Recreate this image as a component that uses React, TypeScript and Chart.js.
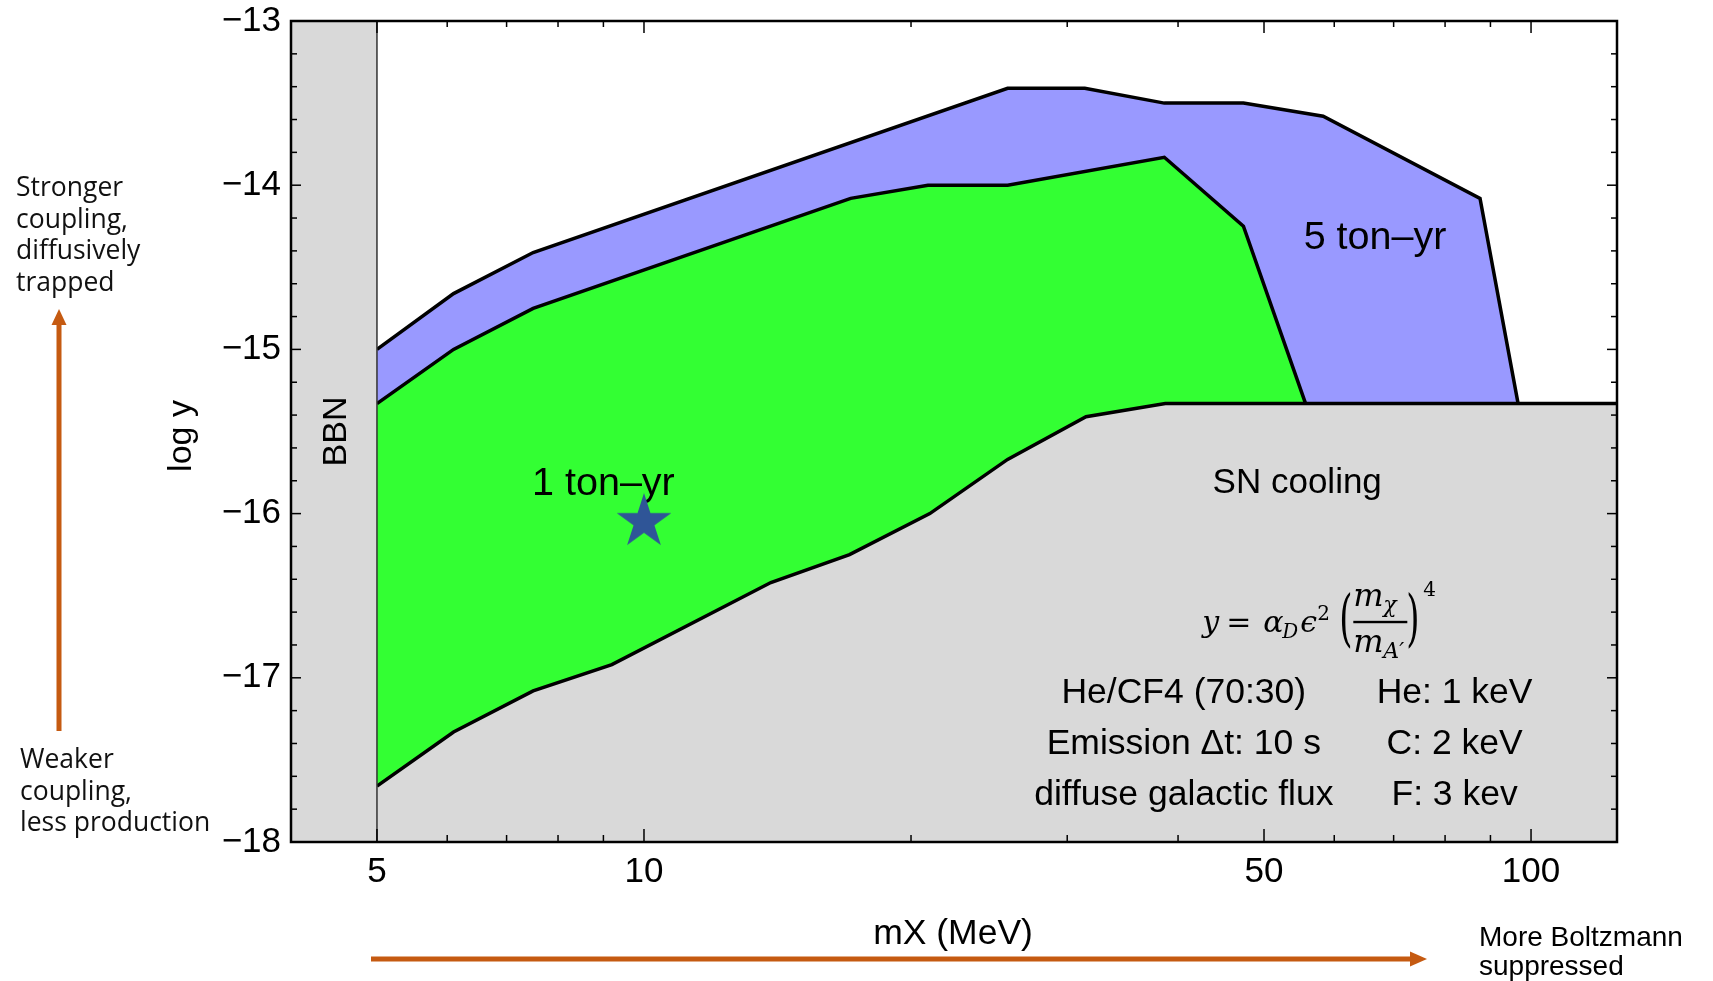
import React, { useEffect, useRef } from "react";
import { Chart, registerables } from "chart.js";

Chart.register(...registerables);

// ---------------- data ----------------
const xMin = 4;
const xMax = 125;
const yMin = -18;
const yMax = -13;
const xTickValues = [5, 10, 50, 100];
const xMinorTicks = [6, 7, 8, 9, 20, 30, 40, 60, 70, 80, 90];
const yTickValues = [-18, -17, -16, -15, -14, -13];

// 5 ton-yr reach (upper boundary), log y vs mX (MeV)
const mass5ton = [5, 6.1, 7.5, 25.7, 31.4, 38.6, 47.4, 58.3, 87.6, 96.7];
const logY5ton = [-15.0, -14.66, -14.41, -13.41, -13.41, -13.5, -13.5, -13.58, -14.08, -15.33];

// 1 ton-yr reach (upper boundary)
const mass1ton = [5, 6.1, 7.5, 17.1, 20.9, 25.7, 38.6, 47.4, 55.7];
const logY1ton = [-15.33, -15.0, -14.75, -14.08, -14.0, -14.0, -13.83, -14.25, -15.33];

// SN cooling excluded region (upper boundary)
const massSN = [5, 6.1, 7.5, 9.2, 13.9, 17.05, 21, 25.7, 31.5, 38.7, 125];
const logYSN = [-17.66, -17.33, -17.08, -16.92, -16.42, -16.25, -16.0, -15.67, -15.41, -15.33, -15.33];

// BBN excluded band
const massBBN = [4, 5];
const logYBBN = [-13, -13];
const bbnEdgeMass = [5, 5];
const bbnEdgeLogY = [-13, -18];

// benchmark star
const starMass = [10];
const starLogY = [-16.05];

// text labels
const infoLeft = ["He/CF4 (70:30)", "Emission \u0394t: 10 s", "diffuse galactic flux"];
const infoRight = ["He: 1 keV", "C: 2 keV", "F: 3 kev"];
const strongerText = ["Stronger", "coupling,", "diffusively", "trapped"];
const weakerText = ["Weaker", "coupling,", "less production"];
const boltzText = ["More Boltzmann", "suppressed"];

const pts = (xs: number[], ys: number[]) => xs.map((x, i) => ({ x, y: ys[i] }));

const SANS = '"Liberation Sans", Arial, sans-serif';
const SERIF = '"DejaVu Serif", "Liberation Serif", serif';
const HUMAN = '"Open Sans", "Noto Sans", sans-serif';
const ORANGE = "#C55A11";

function makeStar(R: number, color: string) {
  const size = Math.ceil(R * 2) + 2;
  const c = document.createElement("canvas");
  c.width = size;
  c.height = size;
  const g = c.getContext("2d")!;
  const cx = size / 2;
  const cy = size / 2;
  const r = R * 0.382;
  g.beginPath();
  for (let i = 0; i < 10; i++) {
    const rad = i % 2 === 0 ? R : r;
    const ang = -Math.PI / 2 + (i * Math.PI) / 5;
    const px = cx + rad * Math.cos(ang);
    const py = cy + rad * Math.sin(ang);
    if (i === 0) g.moveTo(px, py);
    else g.lineTo(px, py);
  }
  g.closePath();
  g.fillStyle = color;
  g.fill();
  return c;
}

const decorPlugin = {
  id: "decor",
  beforeDatasetDraw(chart: any, args: any) {
    if (args.index !== 0) return;
    const { ctx, scales } = chart;
    const x = scales.x;
    const y = scales.y;
    ctx.save();
    ctx.fillStyle = "#000";
    ctx.textBaseline = "alphabetic";
    // region labels
    ctx.textAlign = "center";
    ctx.font = `39.5px ${SANS}`;
    ctx.fillText("1 ton\u2013yr", x.getPixelForValue(9.0), y.getPixelForValue(-15.885));
    ctx.fillText("5 ton\u2013yr", x.getPixelForValue(66.7), y.getPixelForValue(-14.386));
    ctx.font = `35px ${SANS}`;
    ctx.fillText("SN cooling", x.getPixelForValue(54.5), y.getPixelForValue(-15.873));
    // info lines
    ctx.font = `35.5px ${SANS}`;
    const baseY = [-17.151, -17.464, -17.775];
    for (let i = 0; i < 3; i++) {
      ctx.fillText(infoLeft[i], x.getPixelForValue(40.6), y.getPixelForValue(baseY[i]));
      ctx.fillText(infoRight[i], x.getPixelForValue(82.0), y.getPixelForValue(baseY[i]));
    }
    // formula y = alpha_D eps^2 (m_chi / m_A')^4
    const x0 = x.getPixelForValue(42.6);
    const b = y.getPixelForValue(-16.72);
    ctx.textAlign = "left";
    const big = `italic 30px ${SERIF}`;
    const small = `italic 20px ${SERIF}`;
    ctx.font = big;
    ctx.fillText("y", x0, b);
    ctx.font = `30px ${SERIF}`;
    ctx.fillText("=", x0 + 24, b);
    ctx.font = big;
    ctx.fillText("\u03B1", x0 + 61, b);
    ctx.font = small;
    ctx.fillText("D", x0 + 80, b + 6);
    ctx.font = big;
    ctx.fillText("\u03F5", x0 + 98, b);
    ctx.font = `20px ${SERIF}`;
    ctx.fillText("2", x0 + 115, b - 12);
    // parentheses (stretched)
    ctx.font = `34px ${SERIF}`;
    ctx.save();
    ctx.translate(x0 + 137, b - 9);
    ctx.scale(1, 1.8);
    ctx.textBaseline = "middle";
    ctx.fillText("(", 0, 0);
    ctx.restore();
    ctx.save();
    ctx.translate(x0 + 204, b - 9);
    ctx.scale(1, 1.8);
    ctx.textBaseline = "middle";
    ctx.fillText(")", 0, 0);
    ctx.restore();
    // fraction
    ctx.fillRect(x0 + 151, b - 11, 54, 2.4);
    ctx.font = `italic 32px ${SERIF}`;
    ctx.fillText("m", x0 + 151, b - 26);
    ctx.fillText("m", x0 + 151, b + 20);
    ctx.font = `italic 22px ${SERIF}`;
    ctx.fillText("\u03C7", x0 + 181, b - 20);
    ctx.fillText("A\u2032", x0 + 181, b + 26);
    ctx.font = `20px ${SERIF}`;
    ctx.fillText("4", x0 + 221, b - 36);
    ctx.restore();
  },
  afterDatasetsDraw(chart: any) {
    const { ctx, chartArea: a, scales } = chart;
    const x = scales.x;
    const y = scales.y;
    ctx.save();
    ctx.strokeStyle = "#000";
    ctx.lineWidth = 1.5;
    const seg = (x1: number, y1: number, x2: number, y2: number) => {
      ctx.beginPath();
      ctx.moveTo(x1, y1);
      ctx.lineTo(x2, y2);
      ctx.stroke();
    };
    for (const v of xTickValues) {
      const p = x.getPixelForValue(v);
      seg(p, a.bottom, p, a.bottom - 13);
      seg(p, a.top, p, a.top + 12);
    }
    for (const v of xMinorTicks) {
      const p = x.getPixelForValue(v);
      seg(p, a.bottom, p, a.bottom - 7);
      seg(p, a.top, p, a.top + 6);
    }
    for (let k = 0; k <= 25; k++) {
      const v = yMin + k * 0.2;
      const p = y.getPixelForValue(v);
      const len = k % 5 === 0 ? 10 : 6;
      seg(a.left, p, a.left + len, p);
      seg(a.right, p, a.right - len, p);
    }
    ctx.lineWidth = 2.5;
    ctx.strokeRect(a.left, a.top, a.right - a.left, a.bottom - a.top);
    ctx.restore();
  },
  afterDraw(chart: any) {
    const { ctx, chartArea: a, scales } = chart;
    const x = scales.x;
    ctx.save();
    ctx.fillStyle = "#000";
    // axis titles
    ctx.font = `35.5px ${SANS}`;
    ctx.textAlign = "center";
    ctx.textBaseline = "alphabetic";
    ctx.fillText("mX (MeV)", 953, 944);
    ctx.font = `34px ${SANS}`;
    ctx.save();
    ctx.translate(191, 436);
    ctx.rotate(-Math.PI / 2);
    ctx.fillText("log y", 0, 0);
    ctx.restore();
    ctx.save();
    const bx = (x.getPixelForValue(4) + x.getPixelForValue(5)) / 2;
    ctx.translate(bx + 12.5, (a.top + a.bottom) / 2);
    ctx.rotate(-Math.PI / 2);
    ctx.fillText("BBN", 0, 0);
    ctx.restore();
    // side annotations
    ctx.textAlign = "left";
    ctx.fillStyle = "#111";
    ctx.font = `26.5px ${HUMAN}`;
    strongerText.forEach((t, i) => ctx.fillText(t, 16, 196 + i * 31.7));
    weakerText.forEach((t, i) => ctx.fillText(t, 20, 768 + i * 31.5));
    ctx.font = `28px ${SANS}`;
    ctx.fillStyle = "#000";
    boltzText.forEach((t, i) => ctx.fillText(t, 1479, 946 + i * 29));
    // arrows
    ctx.strokeStyle = ORANGE;
    ctx.fillStyle = ORANGE;
    ctx.lineWidth = 5;
    ctx.beginPath();
    ctx.moveTo(59, 731);
    ctx.lineTo(59, 322);
    ctx.stroke();
    ctx.beginPath();
    ctx.moveTo(59, 309);
    ctx.lineTo(51.5, 325);
    ctx.lineTo(66.5, 325);
    ctx.closePath();
    ctx.fill();
    ctx.beginPath();
    ctx.moveTo(371, 959);
    ctx.lineTo(1412, 959);
    ctx.stroke();
    ctx.beginPath();
    ctx.moveTo(1427, 959);
    ctx.lineTo(1410, 951.5);
    ctx.lineTo(1410, 966.5);
    ctx.closePath();
    ctx.fill();
    ctx.restore();
  },
};

export default function App() {
  const ref = useRef<HTMLCanvasElement | null>(null);
  useEffect(() => {
    if (!ref.current) return;
    const star = makeStar(28.7, "#2F5597");
    const chart = new Chart(ref.current, {
      type: "line",
      data: {
        datasets: [
          {
            label: "benchmark",
            data: pts(starMass, starLogY),
            pointStyle: star as any,
            pointRadius: 20,
            showLine: false,
            borderWidth: 0,
          },
          {
            label: "BBN edge",
            data: pts(bbnEdgeMass, bbnEdgeLogY),
            borderColor: "#333333",
            borderWidth: 1.5,
            pointRadius: 0,
            fill: false,
          },
          {
            label: "BBN",
            data: pts(massBBN, logYBBN),
            borderColor: "rgba(0,0,0,0)",
            borderWidth: 0,
            backgroundColor: "#d9d9d9",
            fill: "start",
            pointRadius: 0,
          },
          {
            label: "SN cooling",
            data: pts(massSN, logYSN),
            borderColor: "#000",
            borderWidth: 3.5,
            backgroundColor: "#d9d9d9",
            fill: "start",
            pointRadius: 0,
          },
          {
            label: "1 ton-yr",
            data: pts(mass1ton, logY1ton),
            borderColor: "#000",
            borderWidth: 3.5,
            backgroundColor: "#33ff33",
            fill: "start",
            pointRadius: 0,
          },
          {
            label: "5 ton-yr",
            data: pts(mass5ton, logY5ton),
            borderColor: "#000",
            borderWidth: 3.5,
            backgroundColor: "#9999ff",
            fill: "start",
            pointRadius: 0,
          },
        ],
      },
      options: {
        animation: false,
        responsive: true,
        maintainAspectRatio: false,
        layout: { padding: { top: 21, right: 96, left: 0, bottom: 0 } },
        elements: { line: { tension: 0, borderJoinStyle: "miter" } },
        plugins: {
          legend: { display: false },
          tooltip: { enabled: false },
          filler: { propagate: false, drawTime: "beforeDatasetDraw" },
        },
        scales: {
          x: {
            type: "logarithmic",
            min: xMin,
            max: xMax,
            grid: { display: false, drawTicks: false },
            border: { display: false },
            afterBuildTicks: (s: any) => {
              s.ticks = xTickValues.map((v) => ({ value: v }));
            },
            afterFit: (s: any) => {
              s.height = 139;
              s.paddingLeft = 0;
              s.paddingRight = 0;
            },
            ticks: {
              autoSkip: false,
              maxRotation: 0,
              padding: 9,
              color: "#000",
              font: { family: SANS, size: 35 },
              callback: (v: any) => String(v),
            },
          },
          y: {
            type: "linear",
            min: yMin,
            max: yMax,
            grid: { display: false, drawTicks: false },
            border: { display: false },
            afterBuildTicks: (s: any) => {
              s.ticks = yTickValues.map((v) => ({ value: v }));
            },
            afterFit: (s: any) => {
              s.width = 291;
              s.paddingTop = 0;
              s.paddingBottom = 0;
            },
            ticks: {
              padding: 10,
              color: "#000",
              font: { family: SANS, size: 35 },
              callback: (v: any) => "\u2212" + Math.abs(Number(v)),
            },
          },
        },
      },
      plugins: [decorPlugin],
    });
    return () => chart.destroy();
  }, []);
  return (
    <div style={{ position: "fixed", left: 0, top: 0, width: 1713, height: 981, background: "#fff" }}>
      <canvas ref={ref} />
    </div>
  );
}
